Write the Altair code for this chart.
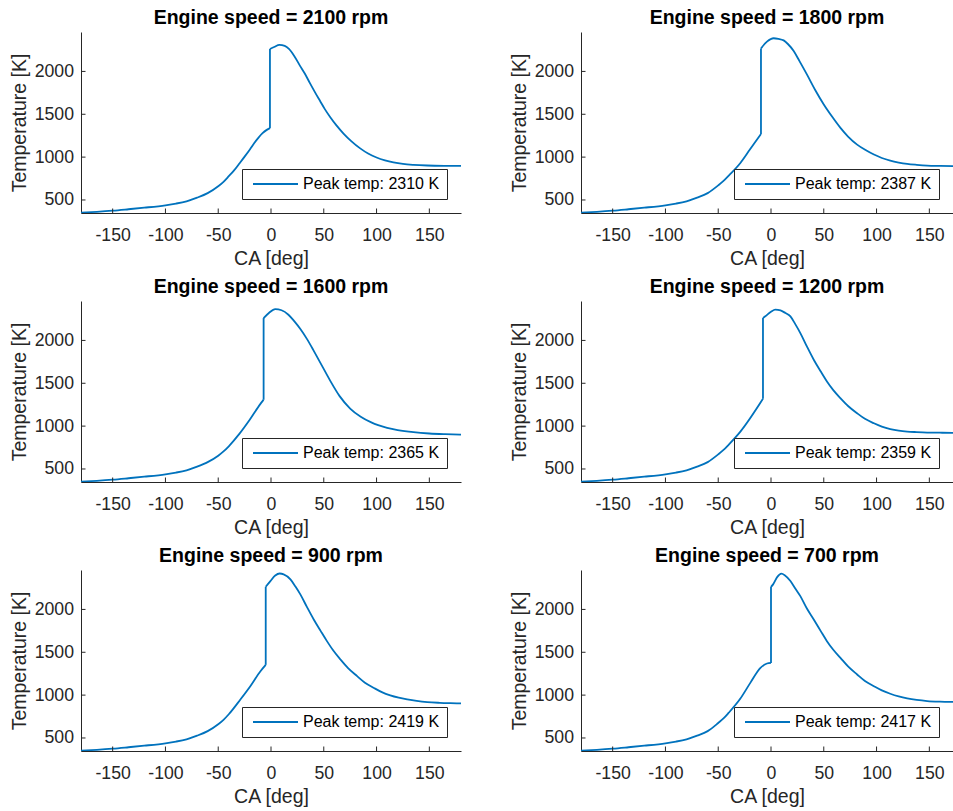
import altair as alt
import pandas as pd

FONT = "Liberation Sans"
AX = "#262626"
LINE_COLOR = "#0072BD"

SPEEDS = [2100, 1800, 1600, 1200, 900, 700]
PEAKS = [2310, 2387, 2365, 2359, 2419, 2417]

X_TICKS = [-150, -100, -50, 0, 50, 100, 150]
Y_TICKS = [500, 1000, 1500, 2000]

# shared compression start (crank angle deg, temperature K)
HEAD_CA = [-180, -165, -150, -135, -120, -100, -90, -80, -70, -60]
HEAD_T = [352, 362, 375, 392, 410, 438, 458, 485, 527, 580]

CA_2100 = [-50, -45, -40, -35, -30, -25, -20, -16, -12, -8, -4, -1, -1, 3, 8, 13, 17, 22, 27.5, 32, 37, 42,
           46.5, 51, 56, 62, 68.7, 76, 84.5, 92, 100, 108, 116, 125, 135, 148, 165, 180]
T_2100 = [660, 712, 777, 845, 925, 1006, 1090, 1162, 1225, 1279, 1318, 1338, 2261, 2285, 2310, 2298, 2262,
          2180, 2065, 1975, 1860, 1750, 1655, 1560, 1468, 1370, 1275, 1187, 1102, 1042, 996, 963, 939, 921,
          910, 902, 898, 897]

CA_1800 = [-50, -45, -40, -29, -20, -9.5, -9.5, -3.8, 2.5, 7, 12, 16, 21.5, 27, 34, 42, 50, 58, 65.8, 73,
           81.6, 90, 97.5, 105, 113, 121, 129, 138, 148, 160, 173, 180]
T_1800 = [670, 722, 785, 932, 1088, 1271, 2268, 2347, 2387, 2380, 2362, 2320, 2238, 2120, 1965, 1780, 1614,
          1470, 1341, 1240, 1146, 1080, 1030, 990, 959, 937, 921, 910, 901, 897, 894, 893]

CA_1600 = [-50, -45, -40, -30, -20, -10, -7, -7, -2, 4, 10, 16.5, 22, 28, 34, 40, 46, 52, 57, 65, 75, 85,
           95, 101.5, 110, 120, 135, 150, 165, 180]
T_1600 = [655, 705, 765, 909, 1077, 1260, 1307, 2261, 2320, 2365, 2352, 2300, 2225, 2130, 2018, 1890, 1755,
          1622, 1510, 1350, 1205, 1109, 1043, 1011, 980, 954, 929, 914, 906, 901]

CA_1200 = [-50, -45, -40, -29, -7.6, -7.6, -5.4, 0, 4.1, 9, 13.6, 18.4, 23, 27.8, 34, 40.5, 47, 53, 59,
           65.8, 73, 81.6, 89, 97.5, 105, 113, 121, 129, 138, 148, 160, 172, 180]
T_1200 = [670, 722, 785, 936, 1319, 2261, 2281, 2335, 2359, 2350, 2320, 2281, 2190, 2086, 1930, 1775, 1640,
          1521, 1420, 1326, 1235, 1150, 1085, 1033, 995, 966, 947, 936, 930, 925, 923, 922, 921]

CA_900 = [-50, -45, -40, -29, -19.6, -10, -5, -5, -0.6, 4, 8.2, 12, 18.4, 23, 27.8, 34, 40.5, 47, 53, 59,
          65.8, 73, 81.6, 89, 97.5, 105, 113, 121, 129, 138, 148, 160, 170, 180]
T_900 = [660, 712, 777, 949, 1104, 1279, 1353, 2264, 2331, 2395, 2419, 2410, 2350, 2270, 2175, 2030, 1883,
         1750, 1630, 1520, 1416, 1315, 1221, 1145, 1084, 1035, 997, 970, 950, 932, 918, 910, 906, 903]

CA_700 = [-50, -45, -40, -29, -19.6, -10, -3.8, 0, 0, 2, 6, 9.8, 13, 18.4, 23, 27.8, 34, 40.5, 47, 53, 59,
          65.8, 73, 81.6, 89, 97.5, 105, 113, 121, 129, 138, 148, 160, 172, 180]
T_700 = [675, 728, 795, 960, 1143, 1318, 1369, 1376, 2264, 2292, 2380, 2417, 2400, 2331, 2245, 2155, 2010,
         1883, 1750, 1630, 1530, 1435, 1335, 1241, 1165, 1104, 1055, 1016, 985, 962, 944, 931, 924, 921, 920]

TAIL_CA = [CA_2100, CA_1800, CA_1600, CA_1200, CA_900, CA_700]
TAIL_T = [T_2100, T_1800, T_1600, T_1200, T_900, T_700]

PLOT_H = 181
TICK_LEN = 4.5

X_AXIS = alt.Axis(
    title="CA [deg]", values=X_TICKS, ticks=False, tickSize=0, grid=False,
    domainColor=AX, domainWidth=1, labelColor=AX, labelFont=FONT, labelFontSize=17.7,
    labelPadding=13, labelFlush=False, labelExpr="'' + datum.value",
    titleFont=FONT, titleFontSize=19.5, titleFontWeight="normal", titleColor=AX, titlePadding=6)
Y_AXIS = alt.Axis(
    title="Temperature [K]", values=Y_TICKS, ticks=False, tickSize=0, grid=False,
    domainColor=AX, domainWidth=1, labelColor=AX, labelFont=FONT, labelFontSize=17.7,
    labelPadding=7.5, labelExpr="'' + datum.value",
    titleFont=FONT, titleFontSize=19.5, titleFontWeight="normal", titleColor=AX, titlePadding=5)


def build_rows(ca, t, label):
    """Split the curve at the combustion jump into three pieces (before, jump, after)."""
    j = next(k for k in range(1, len(ca)) if ca[k] == ca[k - 1])
    rows = []
    pieces = [range(0, j), range(j - 1, j + 1), range(j, len(ca))]
    n = 0
    for s, idx in enumerate(pieces):
        for k in idx:
            rows.append({"CA": ca[k], "T": t[k], "seg": s, "order": n, "label": label})
            n += 1
    return pd.DataFrame(rows)


def panel(i, right):
    ca = HEAD_CA + TAIL_CA[i]
    t = HEAD_T + TAIL_T[i]
    label = f"Peak temp: {PEAKS[i]} K"
    df = build_rows(ca, t, label)
    w = 372 if right else 380
    xmax = -180 + w * 360 / 380
    xs = alt.Scale(domain=[-180, xmax], nice=False, zero=False)
    ys = alt.Scale(domain=[348, 2460], nice=False, zero=False)

    line = alt.Chart(df).mark_line(strokeWidth=1.8, clip=True, interpolate="monotone").encode(
        x=alt.X("CA:Q", scale=xs, axis=X_AXIS),
        y=alt.Y("T:Q", scale=ys, axis=Y_AXIS),
        detail="seg:N",
        order="order:Q",
        color=alt.Color("label:N", scale=alt.Scale(domain=[label], range=[LINE_COLOR]), legend=alt.Legend(
            title=None, orient="bottom-right", offset=14, padding=7, strokeColor=AX, fillColor="white",
            cornerRadius=0, symbolType="M-0.8,0H8.2", symbolSize=100, symbolStrokeWidth=1.8,
            labelOffset=38, labelFont=FONT, labelFontSize=16, labelColor="#000", labelLimit=0)),
    )

    xt = alt.Chart(pd.DataFrame({"CA": X_TICKS})).mark_rule(color=AX, strokeWidth=1).encode(
        x=alt.X("CA:Q", scale=xs, axis=X_AXIS),
        y=alt.value(PLOT_H), y2=alt.value(PLOT_H - TICK_LEN))
    yt = alt.Chart(pd.DataFrame({"T": Y_TICKS})).mark_rule(color=AX, strokeWidth=1).encode(
        y=alt.Y("T:Q", scale=ys, axis=Y_AXIS),
        x=alt.value(0), x2=alt.value(TICK_LEN))

    return alt.layer(line, xt, yt).properties(
        width=w, height=PLOT_H,
        title=alt.TitleParams(text=f"Engine speed = {SPEEDS[i]} rpm", font=FONT, fontSize=19.5,
                              fontWeight="bold", color="#000", offset=4, anchor="middle"))


panels = [panel(i, i % 2 == 1) for i in range(6)]

chart = alt.concat(*panels, columns=2, spacing={"row": 88, "column": 120}, bounds="flush").resolve_scale(
    color="independent", x="independent", y="independent").resolve_legend(color="independent")

chart = chart.properties(
    padding={"left": 9, "top": 7, "right": 0, "bottom": 0},
    background="white",
).configure_view(stroke=None)

chart.save("out.html", embed_options={"renderer": "svg", "actions": False})
